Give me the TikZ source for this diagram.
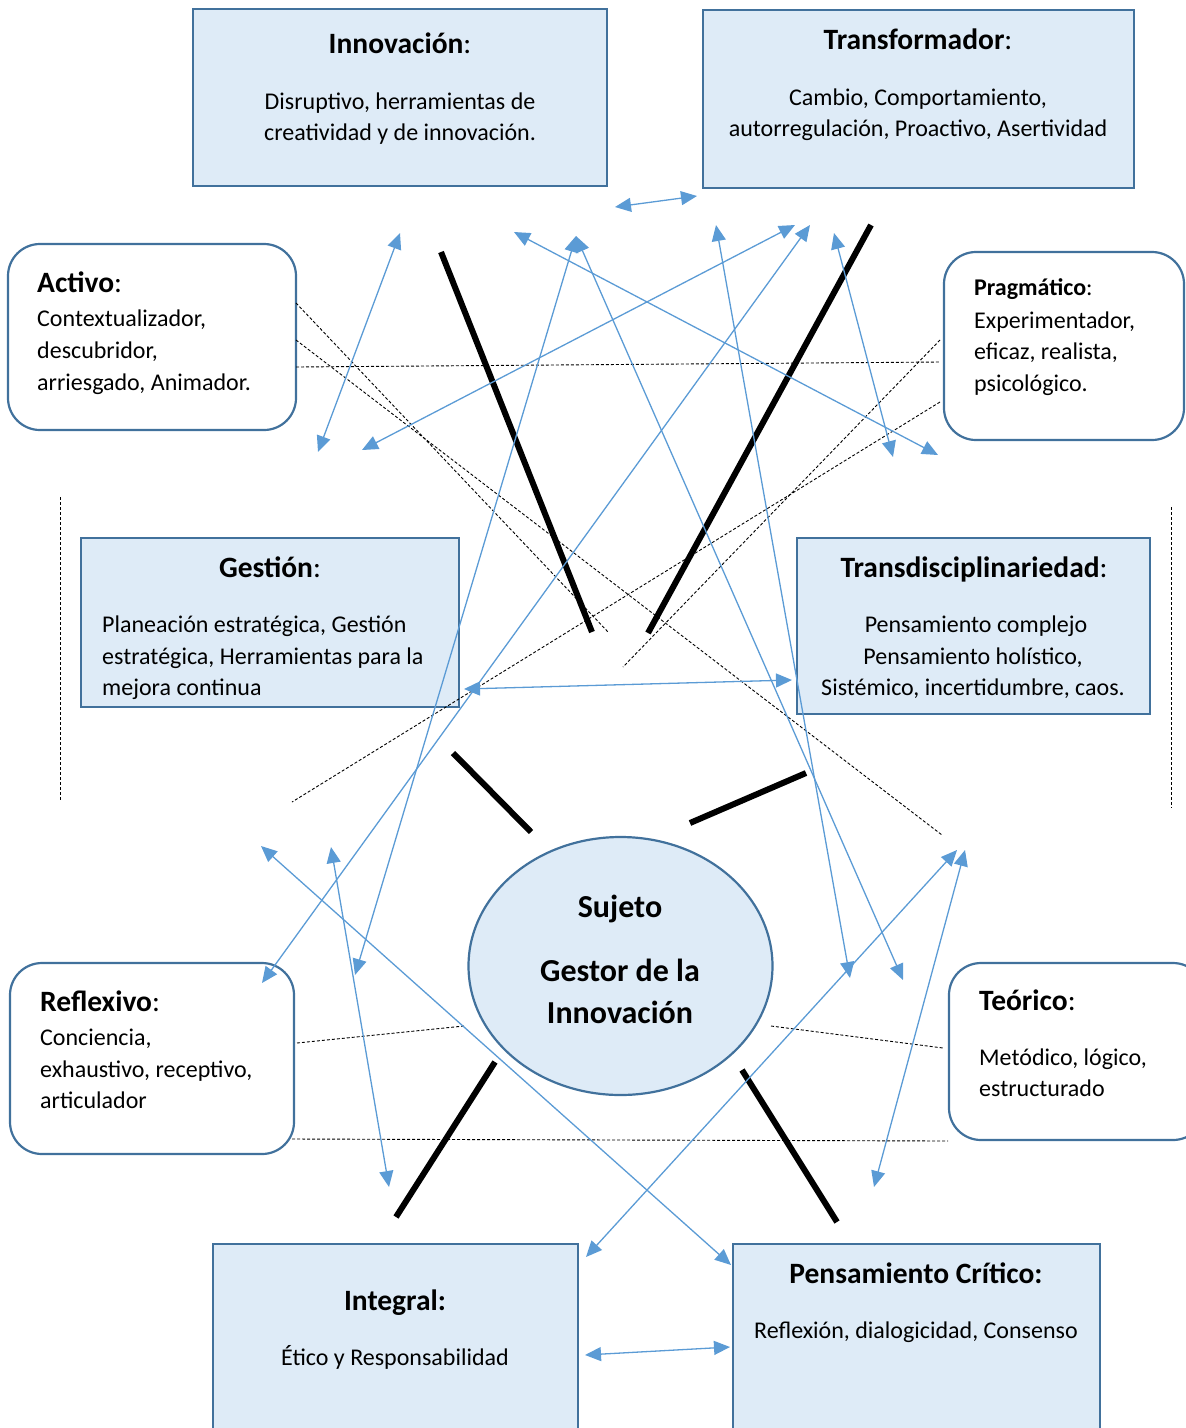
\documentclass[tikz,border=0pt]{standalone}
\usepackage{fontspec}
\setmainfont{Carlito}
\usetikzlibrary{arrows.meta,shapes.geometric}
\definecolor{boxedge}{HTML}{41719C}
\definecolor{boxfill}{HTML}{DEEBF7}
\definecolor{arrblue}{HTML}{5B9BD5}
\tikzset{
  sq/.style={draw=boxedge, fill=boxfill, line width=2.2pt, inner sep=0pt},
  rnd/.style={draw=boxedge, fill=white, line width=2.2pt, rounded corners=32pt, inner sep=0pt},
  hd/.style={font=\fontsize{29.5}{32}\selectfont, inner sep=0pt},
  tx/.style={font=\fontsize{24}{28}\selectfont, inner sep=0pt},
  big/.style={font=\fontsize{32}{34}\selectfont\bfseries, inner sep=0pt},
  arr2/.style={{Triangle[length=16pt,width=14pt]}-{Triangle[length=16pt,width=14pt]}, line width=1.3pt, color=arrblue},
  bar/.style={line width=6pt, black},
  dsh/.style={line width=0.9pt, dash pattern=on 3pt off 2pt},
}
\begin{document}
\begin{tikzpicture}[x=1pt, y=-1pt]
  \useasboundingbox (0,0) rectangle (1186,1428);
  \clip (0,0) rectangle (1186,1428);
  % boxes
  \node[sq, minimum width=414pt, minimum height=177pt] (inno) at (400,97.5) {};
  \node[sq, minimum width=431pt, minimum height=178pt] (trans) at (918.5,99) {};
  \node[rnd, minimum width=288pt, minimum height=186pt] (activo) at (152,337) {};
  \node[rnd, minimum width=240pt, minimum height=188pt] (pragma) at (1064,346) {};
  \node[sq, minimum width=378pt, minimum height=169pt] (gestion) at (270,622.5) {};
  \node[sq, minimum width=353pt, minimum height=176pt] (transd) at (973.5,626) {};
  \node[ellipse, draw=boxedge, fill=boxfill, line width=2.2pt, minimum width=304pt, minimum height=258pt] (sujeto) at (620.5,966) {};
  \node[rnd, minimum width=284pt, minimum height=191pt] (reflex) at (152,1058.5) {};
  \node[rnd, minimum width=256pt, minimum height=177pt] (teorico) at (1077,1051.5) {};
  \node[sq, minimum width=365pt, minimum height=216pt] (integral) at (395.5,1352) {};
  \node[sq, minimum width=367pt, minimum height=216pt] (critico) at (916.5,1352) {};

  % thick bars
  \foreach \n/\x/\y in {b1/441/252, b2/592/632, b3/871/225, b4/648/633,
      b5/453/753, b6/531/832, b7/690/823, b8/806/773,
      b9/495/1062, b10/396/1217, b11/742/1070, b12/837/1222}
    \coordinate (\n) at (\x,\y);
  \draw[bar] (b1) -- (b2);
  \draw[bar] (b3) -- (b4);
  \draw[bar] (b5) -- (b6);
  \draw[bar] (b7) -- (b8);
  \draw[bar] (b9) -- (b10);
  \draw[bar] (b11) -- (b12);

  % dashed links
  \foreach \n/\x/\y in {d1/296/303, d2/609/633, d3/296/340, d4/942/835,
      d5/296/367, d6/940/362, d7/940/340, d8/623/667, d9/940/402, d10/292/802,
      d11/297/1043, d12/464/1026, d13/771/1026, d14/943/1048,
      d15/292/1139, d16/948/1141, d17/60/497, d18/60/800, d19/1171/507, d20/1171/808}
    \coordinate (\n) at (\x,\y);
  \draw[dsh] (d1) -- (d2);
  \draw[dsh] (d3) -- (d4);
  \draw[dsh] (d5) -- (d6);
  \draw[dsh] (d7) -- (d8);
  \draw[dsh] (d9) -- (d10);
  \draw[dsh] (d11) -- (d12);
  \draw[dsh] (d13) -- (d14);
  \draw[dsh] (d15) -- (d16);
  \draw[dsh] (d17) -- (d18);
  \draw[dsh] (d19) -- (d20);

  % blue arrows
  \foreach \n/\x/\y in {t1/615/207, t2/697/196, a1/400/233, a2/318/452,
      c1/514/232, c2/938/455, e1/576/236, e2/355/975, e3/903/980,
      f1/795/225, f2/362/450, g1/810/225, g2/262/983, h1/716/225, h2/850/978,
      k1/834/233, k2/893/457, m1/464/689, m2/792/680, n1/261/846, n2/731/1265,
      p1/331/847, p2/389/1187, q1/957/850, q2/586/1257, r1/965/850, r2/874/1187,
      s1/585/1355, s2/730/1347}
    \coordinate (\n) at (\x,\y);
  \draw[arr2] (t1) -- (t2);
  \draw[arr2] (a1) -- (a2);
  \draw[arr2] (c1) -- (c2);
  \draw[arr2] (e1) -- (e2);
  \draw[arr2] (e1) -- (e3);
  \draw[arr2] (f1) -- (f2);
  \draw[arr2] (g1) -- (g2);
  \draw[arr2] (h1) -- (h2);
  \draw[arr2] (k1) -- (k2);
  \draw[arr2] (m1) -- (m2);
  \draw[arr2] (n1) -- (n2);
  \draw[arr2] (p1) -- (p2);
  \draw[arr2] (q1) -- (q2);
  \draw[arr2] (r1) -- (r2);
  \draw[arr2] (s1) -- (s2);

  % texts
  \node[hd, anchor=base] (inno-h) at (400,53) {\textbf{Innovación}:};
  \node[tx, anchor=base] (inno-1) at (400,109) {Disruptivo, herramientas de};
  \node[tx, anchor=base] (inno-2) at (400,140) {creatividad y de innovación.};

  \node[hd, anchor=base] (trans-h) at (918,49) {\textbf{Transformador}:};
  \node[tx, anchor=base] (trans-1) at (918,105) {Cambio, Comportamiento,};
  \node[tx, anchor=base] (trans-2) at (918,136) {autorregulación, Proactivo, Asertividad};

  \node[hd, anchor=base west] (activo-h) at (37,292) {\textbf{Activo}:};
  \node[tx, anchor=base west] (activo-1) at (37,326) {Contextualizador,};
  \node[tx, anchor=base west] (activo-2) at (37,358) {descubridor,};
  \node[tx, anchor=base west] (activo-3) at (37,390) {arriesgado, Animador.};

  \node[tx, anchor=base west] (pragma-h) at (974,295) {\textbf{Pragmático}:};
  \node[tx, anchor=base west] (pragma-1) at (974,328) {Experimentador,};
  \node[tx, anchor=base west] (pragma-2) at (974,359) {eficaz, realista,};
  \node[tx, anchor=base west] (pragma-3) at (974,391) {psicológico.};

  \node[hd, anchor=base] (gestion-h) at (270,577) {\textbf{Gestión}:};
  \node[tx, anchor=base west] (gestion-1) at (102,632) {Planeación estratégica, Gestión};
  \node[tx, anchor=base west] (gestion-2) at (102,664) {estratégica, Herramientas para la};
  \node[tx, anchor=base west] (gestion-3) at (102,695) {mejora continua};

  \node[hd, anchor=base] (transd-h) at (974,577) {\textbf{Transdisciplinariedad}:};
  \node[tx, anchor=base] (transd-1) at (976,632) {Pensamiento complejo};
  \node[tx, anchor=base] (transd-2) at (973,664) {Pensamiento holístico,};
  \node[tx, anchor=base] (transd-3) at (973,695) {Sistémico, incertidumbre, caos.};

  \node[big, anchor=base] (sujeto-1) at (620,917) {Sujeto};
  \node[big, anchor=base] (sujeto-2) at (620,981) {Gestor de la};
  \node[big, anchor=base] (sujeto-3) at (620,1023) {Innovación};

  \node[hd, anchor=base west] (reflex-h) at (40,1011) {\textbf{Reflexivo}:};
  \node[tx, anchor=base west] (reflex-1) at (40,1045) {Conciencia,};
  \node[tx, anchor=base west] (reflex-2) at (40,1077) {exhaustivo, receptivo,};
  \node[tx, anchor=base west] (reflex-3) at (40,1108) {articulador};

  \node[hd, anchor=base west] (teorico-h) at (979,1010) {\textbf{Teórico}:};
  \node[tx, anchor=base west] (teorico-1) at (979,1065) {Metódico, lógico,};
  \node[tx, anchor=base west] (teorico-2) at (979,1096) {estructurado};

  \node[hd, anchor=base] (integral-h) at (395,1310) {\textbf{Integral:}};
  \node[tx, anchor=base] (integral-1) at (395,1365) {Ético y Responsabilidad};

  \node[hd, anchor=base] (critico-h) at (916,1283) {\textbf{Pensamiento Crítico:}};
  \node[tx, anchor=base] (critico-1) at (916,1338) {Reflexión, dialogicidad, Consenso};
\end{tikzpicture}
\end{document}
